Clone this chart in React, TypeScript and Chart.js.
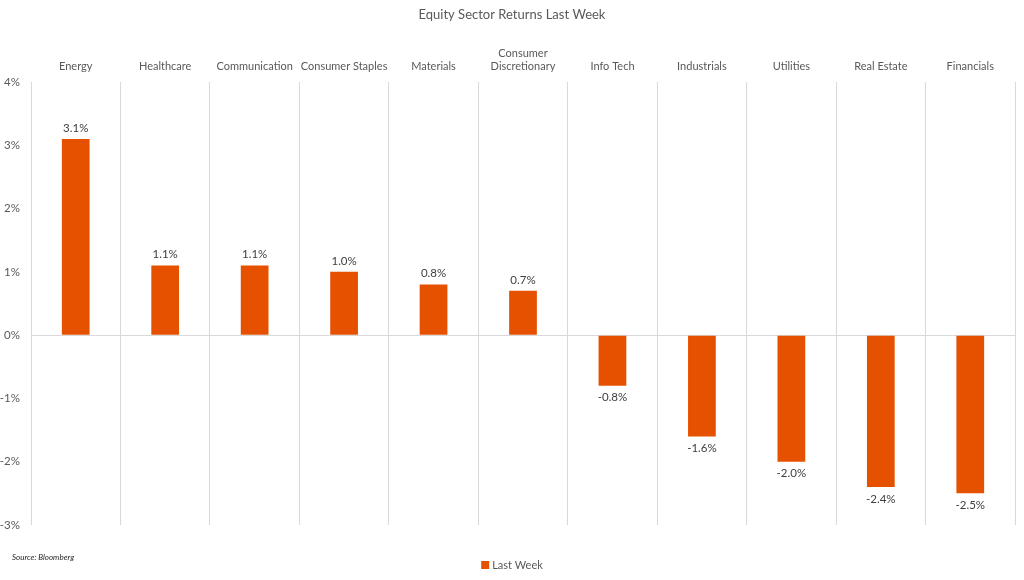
import React, { useEffect, useRef } from "react";
import { Chart, registerables } from "chart.js";

Chart.register(...registerables);

const chartTitle = "Equity Sector Returns Last Week";
const sourceNote = "Source: Bloomberg";
const seriesName = "Last Week";
const categories: (string | string[])[] = [
  "Energy",
  "Healthcare",
  "Communication",
  "Consumer Staples",
  "Materials",
  ["Consumer", "Discretionary"],
  "Info Tech",
  "Industrials",
  "Utilities",
  "Real Estate",
  "Financials",
];
const lastWeek = [3.1, 1.1, 1.1, 1.0, 0.8, 0.7, -0.8, -1.6, -2.0, -2.4, -2.5];
const yMin = -3;
const yMax = 4;
const yStep = 1;

const BAR_COLOR = "#E65100";
const TEXT_COLOR = "#595959";
const GRID_COLOR = "#d9d9d9";
const FONT = "Lato, 'Open Sans', sans-serif";

const decorPlugin = {
  id: "decor",
  afterDatasetsDraw(chart: any) {
    const ctx = chart.ctx;
    const meta = chart.getDatasetMeta(0);
    const data = chart.data.datasets[0].data as number[];
    ctx.save();
    ctx.font = `11.5px ${FONT}`;
    ctx.fillStyle = "#404040";
    ctx.textAlign = "center";
    ctx.textBaseline = "middle";
    meta.data.forEach((el: any, i: number) => {
      const v = data[i];
      const y = v >= 0 ? el.y - 11 : el.y + 12;
      ctx.fillText(v.toFixed(1) + "%", el.x, y);
    });
    ctx.restore();
  },
  afterDraw(chart: any) {
    const ctx = chart.ctx;
    const w = chart.width;
    ctx.save();
    // title
    ctx.font = `13px ${FONT}`;
    ctx.fillStyle = TEXT_COLOR;
    ctx.textAlign = "center";
    ctx.textBaseline = "middle";
    ctx.fillText(chartTitle, w / 2, 15);
    // legend
    ctx.font = `11px ${FONT}`;
    const label = chart.data.datasets[0].label as string;
    const tw = ctx.measureText(label).width;
    const box = 8;
    const gap = 3;
    const total = box + gap + tw;
    const x0 = w / 2 - total / 2;
    ctx.fillStyle = BAR_COLOR;
    ctx.fillRect(x0, 561, box, box);
    ctx.fillStyle = TEXT_COLOR;
    ctx.textAlign = "left";
    ctx.fillText(label, x0 + box + gap, 565.5);
    // source
    ctx.font = `italic 8px ${FONT}`;
    ctx.fillStyle = "#262626";
    ctx.fillText(sourceNote, 12, 557);
    ctx.restore();
  },
};

export default function App() {
  const canvasRef = useRef<HTMLCanvasElement | null>(null);

  useEffect(() => {
    if (!canvasRef.current) return;
    const chart = new Chart(canvasRef.current, {
      type: "bar",
      data: {
        labels: categories as any,
        datasets: [
          {
            label: seriesName,
            data: lastWeek,
            backgroundColor: BAR_COLOR,
            borderWidth: 0,
            barPercentage: 0.62,
            categoryPercentage: 0.5,
          },
        ],
      },
      options: {
        animation: false,
        responsive: true,
        maintainAspectRatio: false,
        layout: { padding: { top: 32, left: 0, right: 9, bottom: 55 } },
        plugins: {
          legend: { display: false },
          title: { display: false },
          tooltip: { enabled: false },
        },
        scales: {
          x: {
            position: "top",
            offset: true,
            grid: {
              display: true,
              offset: true,
              color: GRID_COLOR,
              drawTicks: false,
              lineWidth: 1,
            },
            border: { display: false },
            ticks: {
              color: TEXT_COLOR,
              font: { family: FONT, size: 11 },
              padding: 9,
              maxRotation: 0,
              autoSkip: false,
            },
            afterFit(scale: any) {
              scale.height = 50;
            },
          },
          y: {
            min: yMin,
            max: yMax,
            grid: {
              color: (c: any) => (c.tick && c.tick.value === 0 ? GRID_COLOR : "rgba(0,0,0,0)"),
              drawTicks: false,
            },
            border: { display: false },
            ticks: {
              stepSize: yStep,
              color: TEXT_COLOR,
              font: { family: FONT, size: 11.5 },
              padding: 11,
              callback: (v: any) => `${v}%`,
            },
            afterFit(scale: any) {
              scale.width = 31;
            },
          },
        },
      },
      plugins: [decorPlugin],
    });
    return () => chart.destroy();
  }, []);

  return (
    <div style={{ position: "fixed", left: 0, top: 0, width: 1024, height: 580, background: "#fff" }}>
      <canvas ref={canvasRef} />
    </div>
  );
}
